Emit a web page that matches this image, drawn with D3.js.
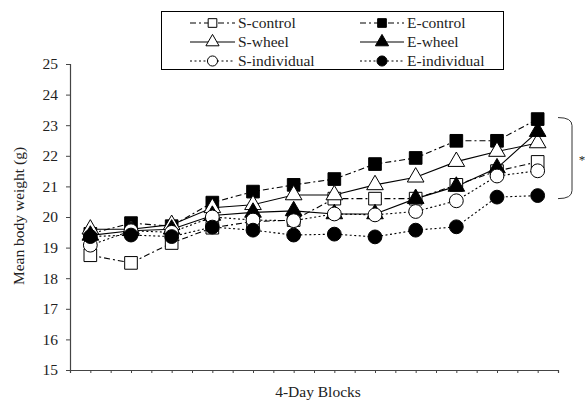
<script src="https://d3js.org/d3.v7.min.js"></script>
<style>
  body { margin: 0; background: #fff; }
  text { font-family: "Liberation Serif", "Times New Roman", serif; fill: #222; }
</style>
<svg width="585" height="409"></svg>
<script>
  // 12 four-day blocks, one point each
  var blocks = d3.range(1, 13);
  var yTicks = d3.range(15, 26);

  var sControl    = [18.75, 18.5, 19.15, 19.65, 19.85, 19.9, 20.6, 20.6, 20.6, 21.05, 21.5, 21.8];
  var eControl    = [19.45, 19.8, 19.7, 20.47, 20.83, 21.05, 21.24, 21.73, 21.93, 22.49, 22.49, 23.2];
  var sWheel      = [19.6, 19.6, 19.75, 20.3, 20.4, 20.72, 20.72, 21.05, 21.3, 21.81, 22.14, 22.42];
  var eWheel      = [19.4, 19.55, 19.6, 20.05, 20.15, 20.2, 20.1, 20.1, 20.6, 21.0, 21.6, 22.79];
  var sIndividual = [19.08, 19.55, 19.5, 20.0, 19.9, 19.88, 20.1, 20.07, 20.18, 20.53, 21.34, 21.51];
  var eIndividual = [19.36, 19.41, 19.36, 19.67, 19.57, 19.41, 19.44, 19.35, 19.57, 19.68, 20.65, 20.7];

  var series = [
    { name: "S-control", values: sControl, dash: "6,3,2,3", shape: d3.symbolSquare, fill: "#fff" },
    { name: "E-control", values: eControl, dash: "6,3,2,3", shape: d3.symbolSquare, fill: "#000" },
    { name: "S-wheel", values: sWheel, dash: null, shape: d3.symbolTriangle, fill: "#fff" },
    { name: "E-wheel", values: eWheel, dash: null, shape: d3.symbolTriangle, fill: "#000" },
    { name: "S-individual", values: sIndividual, dash: "2,2.5", shape: d3.symbolCircle, fill: "#fff" },
    { name: "E-individual", values: eIndividual, dash: "2,2.5", shape: d3.symbolCircle, fill: "#000" }
  ];

  var svg = d3.select("svg");

  // half-block ticks: 0..24, points sit on odd ticks
  var x = d3.scaleLinear().domain([0, 24]).range([70, 558]);
  var y = d3.scaleLinear().domain([15, 25]).range([370, 64]);

  function px(i) { return x(2 * i + 1); }

  var symSize = { "square": 160, "triangle": 120, "circle": 150 };
  function symbolFor(s) {
    var size = s.shape === d3.symbolSquare ? symSize.square
      : s.shape === d3.symbolTriangle ? symSize.triangle : symSize.circle;
    return d3.symbol().type(s.shape).size(size)();
  }

  // axes
  svg.append("g")
    .attr("transform", "translate(70,0)")
    .call(d3.axisLeft(y).tickValues(yTicks).tickSize(4).tickPadding(8))
    .call(function (g) {
      g.select(".domain").attr("stroke", "#444").attr("stroke-width", 1.2);
      g.selectAll(".tick line").attr("stroke", "#444");
      g.selectAll("text").style("font-family", "Liberation Serif").style("font-size", "15.5px").attr("fill", "#222");
    });

  svg.append("g")
    .attr("transform", "translate(0,370)")
    .call(d3.axisBottom(x).ticks(24).tickSize(3).tickFormat(""))
    .call(function (g) {
      g.select(".domain").attr("stroke", "#444").attr("stroke-width", 1.2);
      g.selectAll(".tick line").attr("stroke", "#444");
    });

  svg.append("text")
    .attr("transform", "translate(24,216) rotate(-90)")
    .attr("text-anchor", "middle")
    .style("font-size", "15.5px")
    .text("Mean body weight (g)");

  svg.append("text")
    .attr("x", 318).attr("y", 397)
    .attr("text-anchor", "middle")
    .style("font-size", "15.5px")
    .text("4-Day Blocks");

  // lines
  var line = d3.line()
    .x(function (d, i) { return px(i); })
    .y(function (d) { return y(d); });

  svg.selectAll(".line")
    .data(series)
    .enter().append("path")
    .attr("class", "line")
    .attr("d", function (d) { return line(d.values); })
    .attr("fill", "none")
    .attr("stroke", "#000")
    .attr("stroke-width", 1.1)
    .attr("stroke-dasharray", function (d) { return d.dash; });

  // markers
  series.forEach(function (s) {
    svg.append("g").selectAll("path")
      .data(s.values)
      .enter().append("path")
      .attr("transform", function (d, i) { return "translate(" + px(i) + "," + y(d) + ")"; })
      .attr("d", symbolFor(s))
      .attr("fill", s.fill)
      .attr("stroke", "#000")
      .attr("stroke-width", 1);
  });

  // significance bracket
  var bTop = y(23.25), bBot = y(20.6);
  svg.append("path")
    .attr("d", "M558," + bTop + " Q572," + bTop + " 572," + (bTop + 8) +
      " L572," + (bBot - 8) + " Q572," + bBot + " 558," + bBot)
    .attr("fill", "none").attr("stroke", "#333").attr("stroke-width", 1);
  svg.append("text")
    .attr("x", 582).attr("y", (bTop + bBot) / 2 + 6)
    .attr("text-anchor", "middle")
    .style("font-size", "13px")
    .attr("fill", "#666")
    .text("*");

  // legend
  var legend = svg.append("g");
  legend.append("rect")
    .attr("x", 161.5).attr("y", 11.5).attr("width", 342).attr("height", 58)
    .attr("fill", "#fff").attr("stroke", "#000").attr("stroke-width", 1);

  var rows = [23, 42, 61];
  var cols = [{ x0: 190, x1: 235 }, { x0: 360, x1: 404 }];
  series.forEach(function (s, i) {
    var c = cols[i % 2], ry = rows[Math.floor(i / 2)];
    var item = legend.append("g");
    item.append("line")
      .attr("x1", c.x0).attr("x2", c.x1).attr("y1", ry).attr("y2", ry)
      .attr("stroke", "#000").attr("stroke-width", 1.1)
      .attr("stroke-dasharray", s.dash);
    item.append("path")
      .attr("transform", "translate(" + (c.x0 + c.x1) / 2 + "," + ry + ")")
      .attr("d", d3.symbol().type(s.shape).size(s.shape === d3.symbolCircle ? 80 : 75)())
      .attr("fill", s.fill).attr("stroke", "#000").attr("stroke-width", 1);
    item.append("text")
      .attr("x", c.x1 + 3).attr("y", ry + 5)
      .style("font-size", "15.5px")
      .text(s.name);
  });
</script>
